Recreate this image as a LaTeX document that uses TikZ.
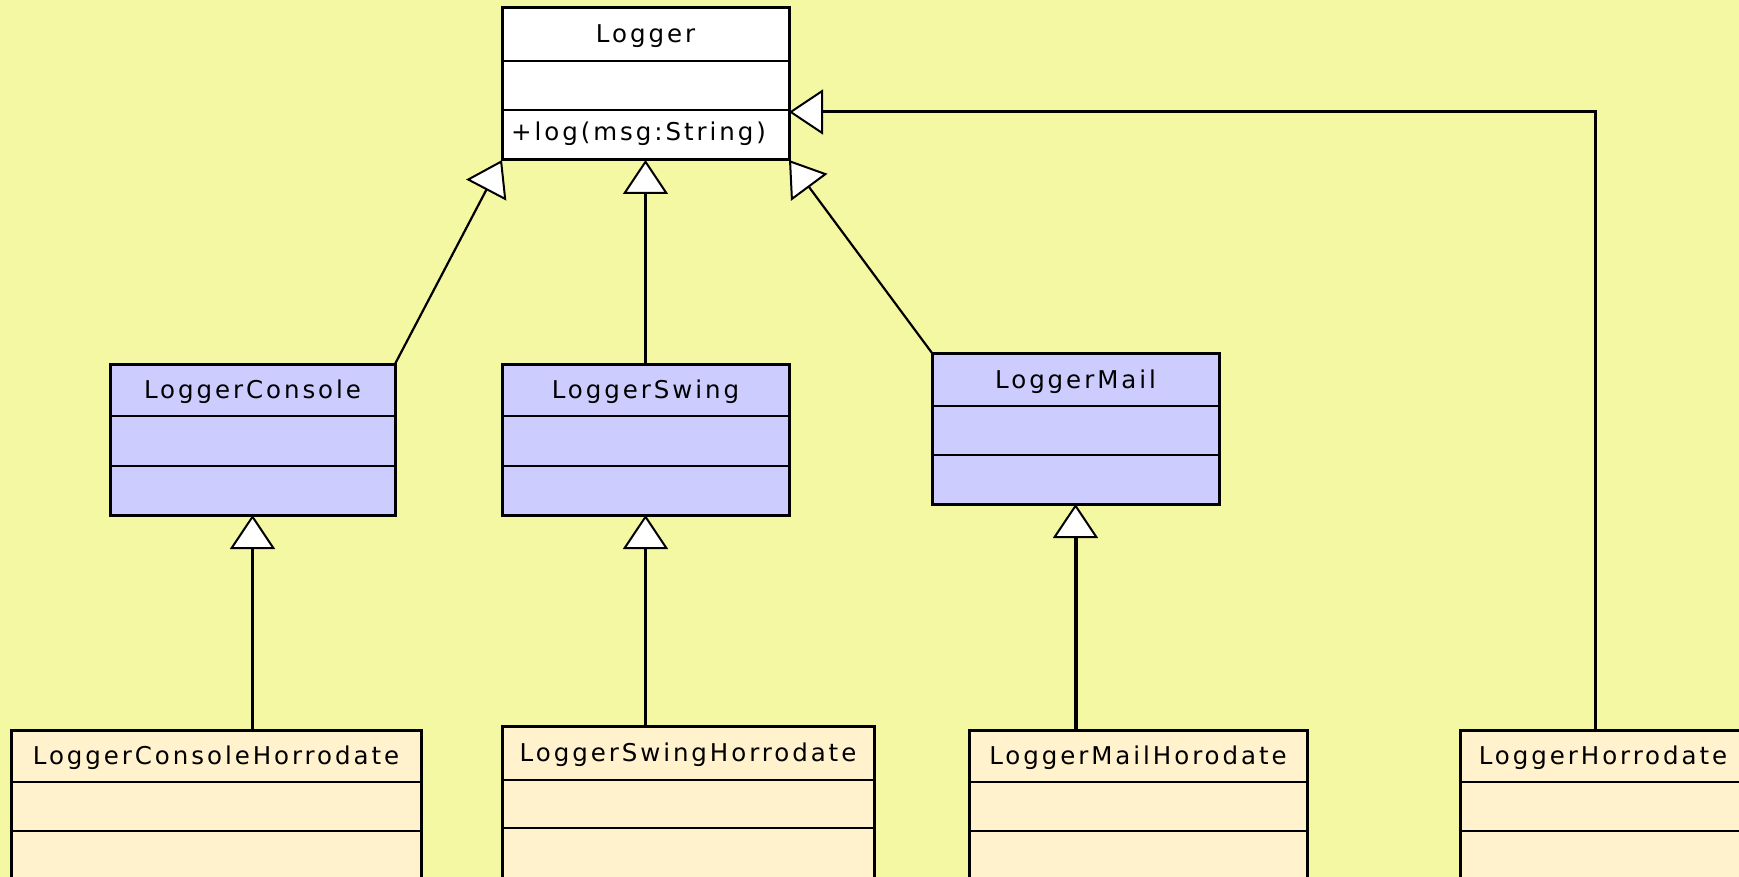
\documentclass[tikz,border=0pt]{standalone}
\usepackage{fontspec}
\usetikzlibrary{arrows.meta,calc}
\newfontfamily\umlfont{DejaVu Sans}[LetterSpace=12]

\definecolor{canvas}{HTML}{F4F8A2}
\definecolor{abstractfill}{HTML}{FFFFFF}
\definecolor{concretefill}{HTML}{CCCCFF}
\definecolor{decorfill}{HTML}{FFF2CC}

\tikzset{
  classbox/.style={draw=black, line width=3pt, inner sep=0pt, outer sep=0pt, anchor=north west},
  divider/.style={draw=black, line width=2.5pt},
  classname/.style={font=\umlfont\fontsize{24.5}{28}\selectfont, inner sep=0pt, anchor=center},
  member/.style={font=\umlfont\fontsize{24.5}{28}\selectfont, inner sep=0pt, anchor=west},
  gen/.style={draw=black, line width=2.2pt,
    -{Triangle[length=34pt, width=45pt, fill=white, line width=2pt]}},
  genbold/.style={gen, line width=4pt},
}

% class box: id, x, y, width, height, first divider, second divider, fill, name
\newcommand\umlclass[9]{%
  \node[classbox, fill=#8, minimum width=#4pt, minimum height=#5pt] (#1) at (#2,#3) {};
  \draw[divider] ([yshift=-#6pt]#1.north west) -- ([yshift=-#6pt]#1.north east);
  \draw[divider] ([yshift=-#7pt]#1.north west) -- ([yshift=-#7pt]#1.north east);
  \node[classname, yshift=-2pt] (#1-name) at ($(#1.north west)!0.5!([yshift=-#6pt]#1.north east)$) {#9};
}

\begin{document}
\begin{tikzpicture}[x=1pt, y=-1pt]
  \useasboundingbox (0,0) rectangle (1739,877);
  \fill[canvas] (0,0) rectangle (1739,877);

  % abstract logger
  \umlclass{logger}{502}{8}{287}{152}{53}{102}{abstractfill}{Logger}
  \node[member] (logger-op) at (511,134) {+log(msg:String)};

  % concrete loggers
  \umlclass{lc}{110}{364}{285}{151}{52}{102}{concretefill}{LoggerConsole}
  \umlclass{ls}{502}{364}{287}{151}{52}{102}{concretefill}{LoggerSwing}
  \umlclass{lm}{932}{353}{287}{151}{53}{102}{concretefill}{LoggerMail}

  % time-stamping subclasses
  \umlclass{lch}{11}{730}{410}{200}{52}{101}{decorfill}{LoggerConsoleHorrodate}
  \umlclass{lsh}{502}{726}{372}{200}{54}{102}{decorfill}{LoggerSwingHorrodate}
  \umlclass{lmh}{969}{730}{338}{200}{52}{101}{decorfill}{LoggerMailHorodate}
  \umlclass{lh}{1460}{730}{286}{200}{52}{101}{decorfill}{LoggerHorrodate}

  % generalisations towards Logger
  \draw[gen] (lc.north east) -- (logger.south west);
  \draw[gen] (ls.north) -- (logger.south -| ls.north);
  \draw[gen] (lm.north west) -- (logger.south east);
  \draw[gen, line width=3pt] ([xshift=135pt]lh.north west) |- ([yshift=-104pt]logger.north east);

  % generalisations of the time-stamping subclasses
  \draw[gen] (lch.north -| lc.south) -- (lc.south);
  \draw[gen] (lsh.north -| ls.south) -- (ls.south);
  \draw[genbold] (lmh.north -| lm.south) -- (lm.south);
\end{tikzpicture}
\end{document}
